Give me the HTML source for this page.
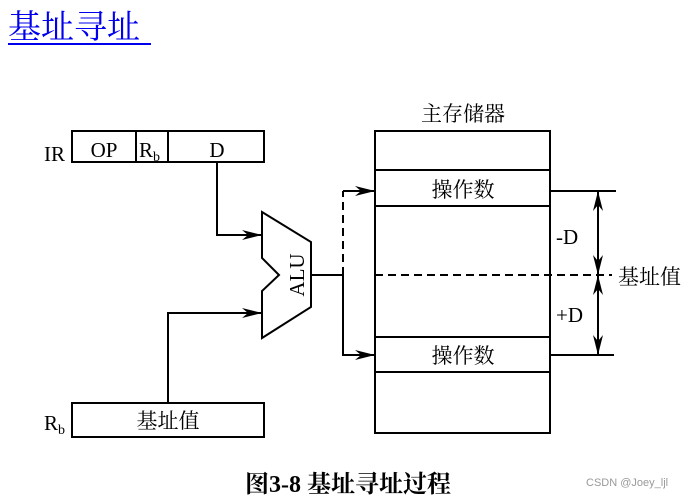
<!DOCTYPE html>
<html><head><meta charset="utf-8"><style>
html,body{margin:0;padding:0;background:#fff;width:696px;height:500px;overflow:hidden}
svg{display:block}
</style></head><body>
<svg width="696" height="500" viewBox="0 0 696 500" xmlns="http://www.w3.org/2000/svg">
<defs>
<marker id="a" viewBox="0 0 20 10" refX="20" refY="5" markerWidth="20" markerHeight="10" markerUnits="userSpaceOnUse" orient="auto">
<path d="M0,0 L20,5 L0,10 L6,5 Z" fill="#000"/></marker>
</defs>
<g font-family="'Liberation Serif','Noto Serif CJK SC',serif">
<text x="8" y="38" font-size="33" fill="#0000ee">基址寻址</text>
<line x1="8" y1="44" x2="151" y2="44" stroke="#0000ee" stroke-width="2"/>
</g>
<g stroke="#000" stroke-width="2" fill="none">
<rect x="72" y="131" width="192" height="31"/>
<line x1="136" y1="131" x2="136" y2="162"/>
<line x1="168" y1="131" x2="168" y2="162"/>
<rect x="72" y="403" width="192" height="34"/>
<rect x="375" y="131" width="175" height="302"/>
<line x1="375" y1="170" x2="550" y2="170"/>
<line x1="375" y1="206" x2="550" y2="206"/>
<line x1="375" y1="337" x2="550" y2="337"/>
<line x1="375" y1="372" x2="550" y2="372"/>
<path d="M262,212 L311,242 L311,307 L262,338 L262,291 L279,275 L262,258 Z" fill="#fff"/>
<path d="M217,162 V235 H262" marker-end="url(#a)"/>
<path d="M168,403 V313 H262" marker-end="url(#a)"/>
<path d="M311,275 H343 V355 H375" marker-end="url(#a)"/>
<path d="M343,275 V191" stroke-dasharray="8,5"/>
<path d="M343,191 H375" marker-end="url(#a)"/>
<line x1="375" y1="275" x2="612" y2="275" stroke-dasharray="8,5"/>
<line x1="550" y1="191" x2="616" y2="191"/>
<line x1="550" y1="355" x2="614" y2="355"/>
<line x1="598" y1="233" x2="598" y2="191" marker-end="url(#a)"/>
<line x1="598" y1="233" x2="598" y2="275" marker-end="url(#a)"/>
<line x1="598" y1="315" x2="598" y2="275" marker-end="url(#a)"/>
<line x1="598" y1="315" x2="598" y2="355" marker-end="url(#a)"/>
</g>
<g font-family="'Liberation Serif','Noto Serif CJK SC',serif" font-size="21" fill="#000">
<text x="44" y="161">IR</text>
<text x="104" y="157" text-anchor="middle">OP</text>
<text x="139" y="157">R<tspan font-size="14" dy="4">b</tspan></text>
<text x="217" y="157" text-anchor="middle">D</text>
<text x="44" y="430">R<tspan font-size="14" dy="4">b</tspan></text>
<text x="168" y="428" text-anchor="middle">基址值</text>
<text x="463" y="121" text-anchor="middle">主存储器</text>
<text x="463" y="197" text-anchor="middle">操作数</text>
<text x="463" y="363" text-anchor="middle">操作数</text>
<text x="556" y="244">-D</text>
<text x="556" y="322">+D</text>
<text x="618" y="284">基址值</text>
<text x="0" y="0" transform="translate(304,275) rotate(-90)" text-anchor="middle">ALU</text>
<text x="348" y="492" text-anchor="middle" font-weight="bold" font-size="24">图3-8 基址寻址过程</text>
</g>
<text x="586" y="486" font-family="'Liberation Sans',sans-serif" font-size="11" fill="#999">CSDN @Joey_ljl</text>
</svg>
</body></html>
